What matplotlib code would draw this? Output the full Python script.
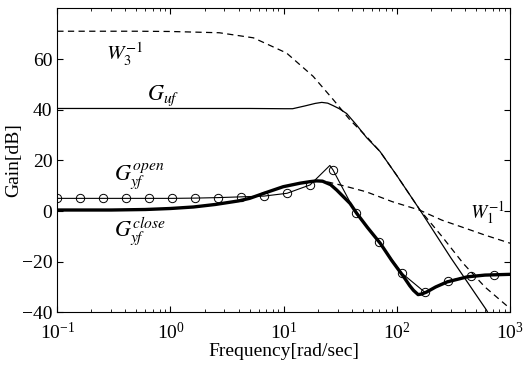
import matplotlib
matplotlib.use("Agg")
import matplotlib.pyplot as plt

plt.rcParams["font.family"] = ["Liberation Serif", "DejaVu Serif"]
plt.rcParams["mathtext.fontset"] = "stix"

# W3^-1 (dashed, upper)
w3_freq = [0.1, 0.5, 1.0, 2.7, 5.4, 10.6, 18.2, 27.4, 38.5, 55, 71, 100, 160, 250, 386, 600, 1000]
w3_gain = [71.0, 71.0, 70.9, 70.4, 68.4, 62.4, 53.2, 44.0, 36.0, 29.0, 23.5, 14.0, 0.4, -10.0, -20.7, -30.0, -38.5]

# G_uf (thin solid)
guf_freq = [0.1, 1.0, 5.0, 10.0, 12.0, 15.4, 19.0, 21.7, 24.5, 27.4, 31.0, 36.0, 44.0, 54.0, 71.0, 100, 160, 300, 621, 650]
guf_gain = [40.5, 40.5, 40.5, 40.4, 40.4, 41.5, 42.5, 42.9, 42.6, 41.6, 40.4, 38.5, 34.0, 29.0, 23.5, 14.0, 0.4, -18.5, -39.2, -41.0]

# W1^-1 (dashed, lower)
w1_freq = [19.5, 25.0, 35.0, 53.6, 91.0, 158, 250, 409, 600, 1000]
w1_gain = [11.8, 11.4, 9.8, 7.6, 3.7, 0.4, -3.6, -6.9, -9.5, -12.7]

# G_yf closed loop (thick)
close_freq = [0.1, 0.3, 0.6, 1.0, 1.6, 2.5, 4.0, 5.0, 7.0, 9.9, 14.0, 17.1, 19.5, 22.0, 26.0, 29.4,
              33.6, 38.6, 44.2, 55.0, 71.5, 90.0, 115, 130, 140, 154, 165, 183, 220, 278, 418, 600, 1000]
close_gain = [0.4, 0.4, 0.6, 1.0, 1.6, 2.6, 4.0, 5.0, 7.3, 9.6, 11.0, 11.6, 11.9, 11.8, 10.4, 8.3,
              5.7, 3.0, -0.9, -6.5, -12.8, -19.5, -26.0, -29.5, -31.3, -33.0, -32.8, -32.0, -30.0, -28.0, -26.0, -25.3, -25.0]

# G_yf open loop (thin with circles)
open_freq = [0.100, 0.160, 0.255, 0.407, 0.649, 1.04, 1.65, 2.64, 4.21, 6.71, 10.7, 17.1,
             25.6, 27.3, 43.5, 69.5, 111, 177, 282, 450, 718, 1000]
open_gain = [5.0, 5.0, 5.0, 5.0, 5.0, 5.0, 5.1, 5.3, 5.6, 5.9, 7.0, 10.3,
             18.0, 16.2, -0.9, -12.3, -24.6, -32.1, -27.6, -25.6, -25.1, -25.0]
open_markers = [0, 1, 2, 3, 4, 5, 6, 7, 8, 9, 10, 11, 13, 14, 15, 16, 17, 18, 19, 20]

fig = plt.figure(figsize=(5.28, 3.67), dpi=100)
ax = fig.add_axes([0.1085, 0.149, 0.8575, 0.828])

ax.plot(w3_freq, w3_gain, color="black", lw=0.9, ls=(0, (5, 3.5)))
ax.plot(guf_freq, guf_gain, color="black", lw=0.9)
ax.plot(w1_freq, w1_gain, color="black", lw=0.9, ls=(0, (5, 3.5)))
ax.plot(close_freq, close_gain, color="black", lw=2.4)
ax.plot(open_freq, open_gain, color="black", lw=0.8, marker="o", markersize=6,
        markerfacecolor="none", markeredgewidth=0.7, markevery=open_markers)

ax.set_xscale("log")
ax.set_xlim(0.1, 1000)
ax.set_ylim(-40, 80)
ax.set_yticks([-40, -20, 0, 20, 40, 60])
ax.tick_params(which="both", direction="in", top=True, right=True, labelsize=14)
ax.tick_params(which="major", length=4)
ax.tick_params(which="minor", length=2)
ax.tick_params(axis="x", pad=7)
for s in ax.spines.values():
    s.set_linewidth(0.8)

ax.set_xlabel("Frequency[rad/sec]", fontsize=14, labelpad=0)
ax.set_ylabel("Gain[dB]", fontsize=14, labelpad=0)

ax.text(0.27, 62, r"$W_3^{-1}$", fontsize=15, va="center")
ax.text(0.62, 45.5, r"$G_{uf}$", fontsize=16, va="center")
ax.text(0.32, 13.5, r"$G_{yf}^{open}$", fontsize=16, va="center")
ax.text(0.32, -8, r"$G_{yf}^{close}$", fontsize=16, va="center")
ax.text(445, -1, r"$W_1^{-1}$", fontsize=14, va="center")

fig.savefig("out.png", dpi=100)
